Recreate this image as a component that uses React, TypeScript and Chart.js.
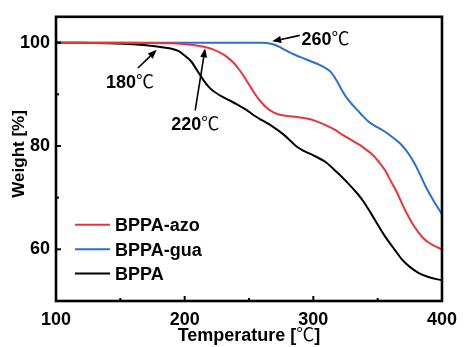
import { useEffect, useRef } from 'react';
import { Chart, registerables } from 'chart.js';

Chart.register(...registerables);

// ---- data ----
const seriesNames = ['BPPA-azo', 'BPPA-gua', 'BPPA'];
const seriesColors = ['#e8343c', '#2b6fd2', '#000000'];

const tempAzo = [100, 150, 190, 205, 215, 222, 228, 233, 238, 242, 246, 250, 254, 258, 262, 267, 272, 280, 287, 295, 302, 310, 317, 323, 330, 336, 341, 346, 351, 356, 360, 365, 369, 373, 377, 382, 387, 393, 400];
const weightAzo = [100, 100, 99.9, 99.6, 99.2, 98.7, 98.0, 97.2, 96.1, 94.9, 93.5, 91.9, 90.3, 88.9, 87.8, 86.8, 86.2, 85.8, 85.6, 85.3, 84.8, 84.0, 83.1, 82.1, 81.1, 80.2, 79.3, 78.3, 76.9, 75.2, 73.3, 71.0, 68.8, 66.8, 65.0, 63.2, 61.8, 60.8, 60.0];

const tempGua = [100, 200, 260, 265, 270, 275, 280, 286, 292, 298, 304, 310, 314, 318, 322, 326, 331, 337, 343, 350, 356, 361, 366, 370, 374, 378, 382, 387, 393, 400];
const weightGua = [100, 100, 100, 99.9, 99.6, 99.0, 98.3, 97.6, 97.0, 96.4, 95.8, 95.0, 94.2, 92.7, 90.9, 89.3, 87.8, 86.2, 84.7, 83.6, 82.7, 81.8, 80.8, 79.8, 78.5, 76.9, 75.0, 72.3, 69.6, 66.8];

const tempBase = [100, 120, 140, 160, 170, 180, 190, 195, 200, 205, 210, 215, 220, 228, 235, 241, 248, 254, 260, 267, 277, 283, 287, 293, 300, 310, 318, 325, 331, 338, 344, 350, 356, 363, 369, 375, 382, 390, 400];
const weightBase = [100, 100, 99.9, 99.7, 99.5, 99.2, 98.8, 98.4, 97.5, 96.4, 94.5, 92.6, 91.1, 89.7, 88.8, 88.0, 87.0, 85.9, 85.0, 84.0, 82.2, 80.8, 79.9, 79.0, 78.2, 76.8, 75.0, 73.3, 71.7, 69.6, 67.3, 64.8, 62.4, 60.0, 58.0, 56.6, 55.4, 54.6, 54.0];

const xTicks = [100, 200, 300, 400];
const yTicks = [60, 80, 100];
const xMinorTicks = [150, 250, 350];
const yMinorTicks = [70, 90];

// onset annotations: label, label centre, arrow tail, arrow tip (data units)
const onsetLabels = ['180', '220', '260'];
const onsetTextX = [157.5, 208.2, 309.5];
const onsetTextY = [92.4, 84.4, 100.8];
const onsetTailX = [163.7, 208.2, 289.5];
const onsetTailY = [95.1, 86.9, 101.4];
const onsetTipX = [178.3, 215.9, 268.0];
const onsetTipY = [98.6, 98.9, 100.25];

const BOLD = 'bold 18px Arial, "Liberation Sans", sans-serif';
const DEG_FONT = '18px "Noto Sans CJK SC", "DejaVu Sans", sans-serif';

type Run = { text: string; font: string };

function drawRuns(ctx: CanvasRenderingContext2D, runs: Run[], x: number, baseline: number, align: 'center' | 'left') {
  const widths = runs.map((r) => {
    ctx.font = r.font;
    return ctx.measureText(r.text).width;
  });
  const total = widths.reduce((a, b) => a + b, 0);
  let cx = align === 'center' ? x - total / 2 : x;
  ctx.textAlign = 'left';
  ctx.textBaseline = 'alphabetic';
  runs.forEach((r, i) => {
    ctx.font = r.font;
    ctx.fillText(r.text, cx, baseline);
    cx += widths[i];
  });
}

function drawArrow(ctx: CanvasRenderingContext2D, x0: number, y0: number, x1: number, y1: number) {
  const ang = Math.atan2(y1 - y0, x1 - x0);
  const headLen = 9;
  const headHalf = 3.5;
  const bx = x1 - headLen * Math.cos(ang);
  const by = y1 - headLen * Math.sin(ang);
  ctx.beginPath();
  ctx.moveTo(x0, y0);
  ctx.lineTo(bx, by);
  ctx.lineWidth = 1.6;
  ctx.strokeStyle = '#000';
  ctx.stroke();
  ctx.beginPath();
  ctx.moveTo(x1, y1);
  ctx.lineTo(bx + headHalf * Math.sin(ang), by - headHalf * Math.cos(ang));
  ctx.lineTo(bx - headHalf * Math.sin(ang), by + headHalf * Math.cos(ang));
  ctx.closePath();
  ctx.fillStyle = '#000';
  ctx.fill();
}

const framePlugin = {
  id: 'tgaFrame',
  afterDatasetsDraw(chart: any) {
    const { ctx, chartArea, scales } = chart;
    const xs = scales.x;
    const ys = scales.y;
    ctx.save();

    // onset arrows and labels
    onsetLabels.forEach((lab, i) => {
      drawArrow(
        ctx,
        xs.getPixelForValue(onsetTailX[i]),
        ys.getPixelForValue(onsetTailY[i]),
        xs.getPixelForValue(onsetTipX[i]),
        ys.getPixelForValue(onsetTipY[i])
      );
      ctx.fillStyle = '#000';
      drawRuns(
        ctx,
        [
          { text: lab, font: BOLD },
          { text: '℃', font: DEG_FONT },
        ],
        xs.getPixelForValue(onsetTextX[i]),
        ys.getPixelForValue(onsetTextY[i]) + 6.5,
        'center'
      );
    });

    // legend
    const lx = chartArea.left + 19;
    const ly = chartArea.top + 208;
    chart.data.datasets.forEach((ds: any, i: number) => {
      const y = ly + i * 24.4;
      ctx.beginPath();
      ctx.moveTo(lx, y);
      ctx.lineTo(lx + 35, y);
      ctx.lineWidth = 2;
      ctx.strokeStyle = ds.borderColor;
      ctx.stroke();
      ctx.fillStyle = '#000';
      drawRuns(ctx, [{ text: ds.label, font: BOLD }], lx + 40, y + 6.5, 'left');
    });

    // inward tick marks
    ctx.strokeStyle = '#000';
    ctx.lineWidth = 2;
    const tick = (v: number, len: number, axis: 'x' | 'y') => {
      ctx.beginPath();
      if (axis === 'x') {
        const px = xs.getPixelForValue(v);
        ctx.moveTo(px, chartArea.bottom);
        ctx.lineTo(px, chartArea.bottom - len);
      } else {
        const py = ys.getPixelForValue(v);
        ctx.moveTo(chartArea.left, py);
        ctx.lineTo(chartArea.left + len, py);
      }
      ctx.stroke();
    };
    xTicks.forEach((v) => tick(v, 5, 'x'));
    xMinorTicks.forEach((v) => tick(v, 3, 'x'));
    yTicks.forEach((v) => tick(v, 5, 'y'));
    yMinorTicks.forEach((v) => tick(v, 3, 'y'));

    // frame
    ctx.lineWidth = 2.6;
    ctx.strokeRect(chartArea.left, chartArea.top, chartArea.right - chartArea.left, chartArea.bottom - chartArea.top);

    // axis titles
    ctx.fillStyle = '#000';
    const cx = (chartArea.left + chartArea.right) / 2;
    drawRuns(
      ctx,
      [
        { text: 'Temperature [', font: BOLD },
        { text: '℃', font: DEG_FONT },
        { text: ']', font: BOLD },
      ],
      cx,
      341,
      'center'
    );
    ctx.translate(23.5, (chartArea.top + chartArea.bottom) / 2 - 5);
    ctx.rotate(-Math.PI / 2);
    drawRuns(ctx, [{ text: 'Weight [%]', font: 'bold 17px Arial, "Liberation Sans", sans-serif' }], 0, 0, 'center');
    ctx.restore();
  },
};

export default function App() {
  const ref = useRef<HTMLCanvasElement | null>(null);

  useEffect(() => {
    if (!ref.current) return;
    const pts = (t: number[], w: number[]) => t.map((x, i) => ({ x, y: w[i] }));
    const series = [pts(tempAzo, weightAzo), pts(tempGua, weightGua), pts(tempBase, weightBase)];
    const tickFont = { family: 'Arial, "Liberation Sans", sans-serif', size: 18, weight: 'bold' as const };

    const chart = new Chart(ref.current, {
      type: 'line',
      data: {
        datasets: series.map((data, i) => ({
          label: seriesNames[i],
          data,
          borderColor: seriesColors[i],
          backgroundColor: seriesColors[i],
          borderWidth: 2,
          pointRadius: 0,
          cubicInterpolationMode: 'monotone' as const,
          fill: false,
        })),
      },
      options: {
        animation: false,
        responsive: false,
        devicePixelRatio: 1,
        layout: { padding: { left: 0, top: 13, right: 18, bottom: 0 } },
        plugins: { legend: { display: false }, tooltip: { enabled: false } },
        scales: {
          x: {
            type: 'linear',
            min: 100,
            max: 400,
            grid: { display: false, drawTicks: false },
            border: { display: false },
            ticks: { color: '#000', font: tickFont, padding: 8, maxRotation: 0 },
            afterBuildTicks: (s: any) => {
              s.ticks = xTicks.map((value) => ({ value }));
            },
            afterFit: (s: any) => {
              s.height = 46;
            },
          },
          y: {
            type: 'linear',
            min: 50,
            max: 105,
            grid: { display: false, drawTicks: false },
            border: { display: false },
            ticks: { color: '#000', font: tickFont, padding: 6 },
            afterBuildTicks: (s: any) => {
              s.ticks = yTicks.map((value) => ({ value }));
            },
            afterFit: (s: any) => {
              s.width = 56;
            },
          },
        },
      },
      plugins: [framePlugin],
    });
    return () => chart.destroy();
  }, []);

  return (
    <div style={{ position: 'fixed', left: 0, top: 0, width: 465, height: 347, background: '#fff' }}>
      <canvas ref={ref} width={465} height={347} />
    </div>
  );
}
